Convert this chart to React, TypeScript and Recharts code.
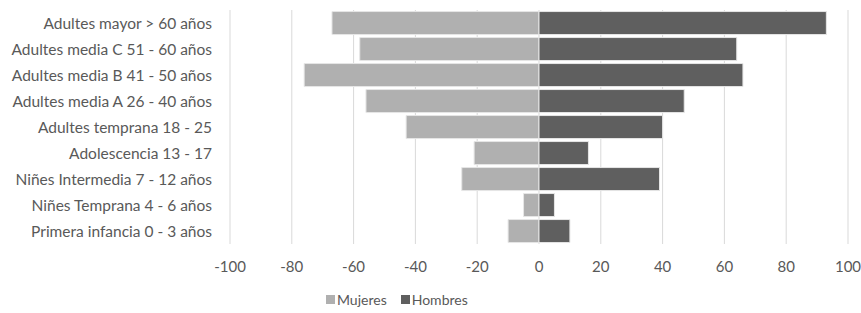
import { BarChart, Bar, XAxis, YAxis, CartesianGrid, Legend } from 'recharts';

const categories = [
  'Adultes mayor > 60 años',
  'Adultes media C 51 - 60 años',
  'Adultes media B 41 - 50 años',
  'Adultes media A 26 - 40 años',
  'Adultes temprana 18 - 25',
  'Adolescencia 13 - 17',
  'Niñes Intermedia 7 - 12 años',
  'Niñes Temprana 4 - 6 años',
  'Primera infancia 0 - 3 años',
];
const mujeres = [-67, -58, -76, -56, -43, -21, -25, -5, -10];
const hombres = [93, 64, 66, 47, 40, 16, 39, 5, 10];
const xTicks = [-100, -80, -60, -40, -20, 0, 20, 40, 60, 80, 100];

const data = categories.map((name, i) => ({ name, Mujeres: mujeres[i], Hombres: hombres[i] }));

const FONT = 'Lato, "Open Sans", sans-serif';

const LegendBox = () => (
  <div style={{ display: 'flex', gap: 14, fontFamily: FONT, fontSize: 14, color: '#595959' }}>
    {[
      ['Mujeres', '#b0b0b0'],
      ['Hombres', '#5f5f5f'],
    ].map(([label, color]) => (
      <span key={label} style={{ display: 'flex', alignItems: 'center', gap: 2 }}>
        <span style={{ width: 9, height: 9, background: color, display: 'inline-block' }} />
        {label}
      </span>
    ))}
  </div>
);

const App = () => {
  return (
    <div style={{ position: 'absolute', left: 0, top: 0, background: '#fff' }}>
      <BarChart
        width={861}
        height={313}
        data={data}
        layout="vertical"
        stackOffset="sign"
        barCategoryGap="6%"
        margin={{ top: 10, right: 13, left: 0, bottom: 12 }}
      >
        <CartesianGrid horizontal={false} stroke="#d9d9d9" />
        <XAxis
          type="number"
          domain={[-100, 100]}
          ticks={xTicks}
          axisLine={false}
          tickLine={false}
          tickMargin={11}
          height={40}
          tick={{ fill: '#595959', fontSize: 15, fontFamily: FONT }}
        />
        <YAxis
          type="category"
          dataKey="name"
          width={230}
          axisLine={false}
          tickLine={false}
          tickMargin={12}
          tick={{ fill: '#595959', fontSize: 15.5, fontFamily: FONT }}
        />
        <Legend
          content={<LegendBox />}
          wrapperStyle={{ position: 'absolute', left: 326, top: 291, width: 'auto' }}
        />
        <Bar dataKey="Mujeres" stackId="a" fill="#b0b0b0" stroke="#e6e6e6" strokeWidth={1} isAnimationActive={false} />
        <Bar dataKey="Hombres" stackId="a" fill="#5f5f5f" stroke="#e6e6e6" strokeWidth={1} isAnimationActive={false} />
      </BarChart>
    </div>
  );
};

export default App;
